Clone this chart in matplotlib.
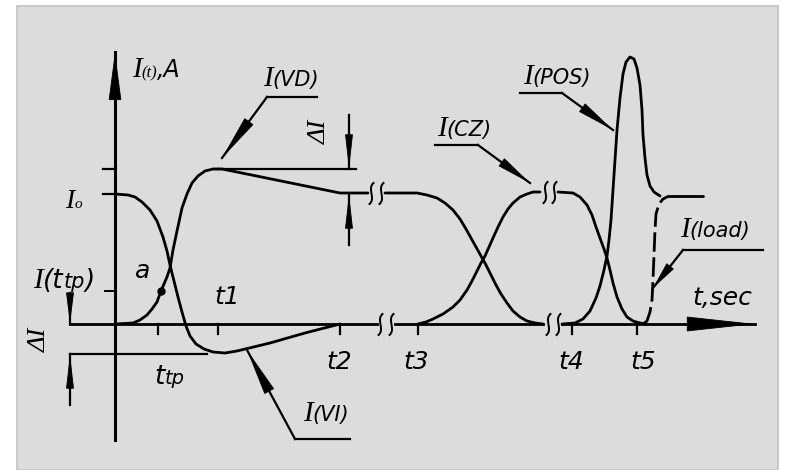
import matplotlib.pyplot as plt
from matplotlib.path import Path
from matplotlib.patches import Rectangle
from matplotlib.offsetbox import TextArea, HPacker, AnnotationBbox

# Drawing units: t to the right, I upward, origin where the axes cross.
# I(VI): drops from I0, dips below zero, recovers by t2
vi_t = [0, 13, 20, 27, 35, 42, 48, 52, 55, 59, 63, 67, 71, 75, 81, 89, 98, 110, 122, 155, 190, 225]
vi_i = [130, 129, 127, 122, 114, 103, 87, 73, 59, 43, 27, 12, -2, -12, -20, -25, -28, -29, -27, -19, -9, 0]

# I(VD): rises through point a, overshoots, settles back to I0
vd_t = [0, 18, 25, 32, 37, 42, 46, 49, 52, 55, 58, 62, 67, 72, 77, 83, 90, 98, 107, 117, 225, 253]
vd_i = [0, 1, 4, 9, 15, 22, 33, 40, 47, 56, 74, 93, 116, 130, 141, 148, 153, 155, 155, 153, 131, 131]

# I(VD) after the first break, falling to zero
vd2_t = [270, 302, 312, 322, 330, 338, 345, 351, 356, 361, 366, 371, 376, 381, 386, 392, 398, 405, 412, 420, 428]
vd2_i = [131, 131, 129, 126, 121, 114, 105, 95, 86, 77, 68, 59, 49, 39, 30, 21, 13, 7, 3, 1, 0]

# I(CZ) rising from t3 ...
cz_t = [303, 311, 318, 328, 338, 345, 352, 357, 362, 366, 370, 374, 378, 383, 388, 393, 398, 405, 412, 418, 425]
cz_i = [0, 2, 5, 10, 17, 24, 34, 43, 53, 61, 68, 77, 86, 97, 107, 115, 121, 127, 130, 132, 132]
# ... and falling after t4
cz2_t = [443, 458, 465, 472, 477, 481, 485, 489, 492, 495, 498, 502, 507, 512, 518, 525, 531]
cz2_i = [132, 131, 127, 119, 109, 97, 86, 75, 66, 54, 41, 27, 15, 7, 3, 1, 0]

# I(POS) pulse
pos_t = [447, 460, 468, 475, 481, 485, 489, 492, 494, 496, 498, 500, 502, 505, 508, 511,
         515, 519, 522, 525, 527, 528, 530, 532, 535, 539, 545]
pos_i = [0, 1, 5, 13, 26, 38, 54, 68, 84, 104, 134, 164, 194, 226, 250, 262,
         267, 265, 256, 239, 214, 189, 166, 149, 138, 132, 128]

# I(load)
load_t = [528, 532, 535, 537, 538, 539, 540, 541, 544, 548, 554]
load_i = [0, 3, 12, 24, 44, 69, 94, 110, 120, 125, 128]
load_flat_t = [554, 588]
load_level = 128

I0 = 130
I_peak = 155
I_dip = -30
a_t, a_i = 46, 33

x_ticks = [43, 103, 225, 303, 457, 522]
x_tick_labels = ['t1', 't2', 't3', 't4', 't5']

# break marks: (t, I) centres
breaks_top_t = [256, 266, 430, 439]
breaks_top_i = [131, 131, 132, 132]
breaks_axis_t = [265, 276, 433, 443]
axis_segments = [(-45, 262), (280, 428), (447, 600)]

fig = plt.figure(figsize=(7.9, 4.7), dpi=100, facecolor='white')
ax = fig.add_axes([0, 0, 1, 1])
ax.set_xlim(-115, 675)
ax.set_ylim(-146, 324)
ax.axis('off')

ax.add_patch(Rectangle((-98, -146), 761, 464, facecolor='#dcdcdc',
                       edgecolor='#c2c2c2', lw=1.2, zorder=0))

K = 'black'
curve = dict(color=K, lw=2.0, solid_capstyle='round', solid_joinstyle='round')


def arrow(start, tip, length, half, lw=1.6):
    # shaft drawn as a plain line, head as a thin-edged filled triangle
    ax.plot([start[0], tip[0]], [start[1], tip[1]], color=K, lw=lw)
    ax.annotate('', xy=tip, xytext=start,
                arrowprops=dict(arrowstyle=f'-|>,head_length={length},head_width={half}',
                                color=K, lw=0.6, shrinkA=0, shrinkB=0, mutation_scale=10))


def label(x, y, parts):
    boxes = [TextArea(s, textprops=dict(family=f, style='italic', size=sz, color=K))
             for s, f, sz in parts]
    pack = HPacker(children=boxes, align='baseline', pad=0, sep=0)
    ax.add_artist(AnnotationBbox(pack, (x, y), box_alignment=(0, 0),
                                 frameon=False, pad=0))


SERIF = 'Liberation Serif'
SANS = 'DejaVu Sans'

# axes
ax.plot([0, 0], [-116, 240], color=K, lw=2.2)
arrow((0, 230), (0, 272), 3.2, 0.42, lw=2.2)
for a0, a1 in axis_segments:
    ax.plot([a0, a1], [0, 0], color=K, lw=2.0)
arrow((590, 0), (640, 0), 4.6, 0.5, lw=2.0)

squiggle = Path([(0.25, 1.0), (-0.5, 0.5), (0.5, -0.5), (-0.25, -1.0)],
                [Path.MOVETO, Path.CURVE4, Path.CURVE4, Path.CURVE4])
ax.plot(breaks_top_t, breaks_top_i, ls='none', marker=squiggle, ms=16,
        mfc='none', mec=K, mew=1.4)
ax.plot(breaks_axis_t, [0] * len(breaks_axis_t), ls='none', marker=squiggle, ms=16,
        mfc='none', mec=K, mew=1.4)

# ticks
for t in x_ticks:
    ax.plot([t, t], [0, -10], color=K, lw=1.6)
ax.plot([-12, 0], [I0, I0], color=K, lw=1.6)
ax.plot([-12, 0], [I_peak, I_peak], color=K, lw=1.6)
ax.plot([-10, 0], [a_i, a_i], color=K, lw=1.4)

# traces
ax.plot(vi_t, vi_i, **curve)
ax.plot(vd_t, vd_i, **curve)
ax.plot(vd2_t, vd2_i, **curve)
ax.plot(cz_t, cz_i, **curve)
ax.plot(cz2_t, cz2_i, **curve)
ax.plot(pos_t, pos_i, **curve)
ax.plot(load_t, load_i, color=K, lw=2.0, ls=(0, (7, 2)))
ax.plot(load_flat_t, [load_level] * 2, **curve)
ax.plot([a_t], [a_i], 'o', color=K, ms=5)

# delta I dimensions
ax.plot([100, 241], [I_peak, I_peak], color=K, lw=1.6)
arrow((234, 209), (234, I_peak), 2.2, 0.25)
arrow((234, 79), (234, I0), 2.2, 0.25)
ax.plot([-45, 92], [I_dip, I_dip], color=K, lw=1.6)
arrow((-45, 31), (-45, 0), 2.0, 0.25)
arrow((-45, -81), (-45, I_dip), 2.2, 0.25)

# leaders
ax.plot([152, 202], [227, 227], color=K, lw=1.6)
arrow((152, 227), (107, 166), 3.0, 0.36)
ax.plot([320, 363], [179, 179], color=K, lw=1.6)
arrow((363, 179), (415, 141), 2.3, 0.32)
ax.plot([405, 447], [231, 231], color=K, lw=1.6)
arrow((447, 231), (498, 194), 2.5, 0.34)
ax.plot([568, 648], [74, 74], color=K, lw=1.6)
arrow((568, 74), (538, 36), 1.8, 0.3)
ax.plot([180, 235], [-115, -115], color=K, lw=1.6)
arrow((180, -115), (132, -26), 3.1, 0.36)

# labels
label(17, 241, [('I', SERIF, 21), ('(t)', SERIF, 12), (',A', SANS, 17)])
label(-50, 110, [('I', SERIF, 20), ('o', SERIF, 11)])
label(148, 232, [('I', SERIF, 21), ('(VD)', SANS, 15)])
label(322, 182, [('I', SERIF, 21), ('(CZ)', SANS, 15)])
label(408, 234, [('I', SERIF, 21), ('(POS)', SANS, 15)])
label(565, 81, [('I', SERIF, 21), ('(load)', SANS, 15)])
label(188, -103, [('I', SERIF, 21), ('(VI)', SANS, 15)])
label(-82, 30, [('I', SERIF, 21), ('(t', SANS, 19), ('tp', SANS, 15), (')', SANS, 19)])
label(39, -66, [('t', SANS, 19), ('tp', SANS, 14)])

txt = dict(family=SANS, style='italic', size=18, color=K, ha='center', va='center')
ax.text(28, 53, 'a', **txt)
ax.text(112, 27, x_tick_labels[0], **txt)
for t, s in zip([224, 301, 456, 528], x_tick_labels[1:]):
    ax.text(t, -38, s, **txt)
ax.text(607, 26, 't,sec', **txt)

dtxt = dict(family=SERIF, style='italic', size=19, color=K, ha='center', va='center', rotation=90)
ax.text(205, 192, 'ΔI', **dtxt)
ax.text(-75, -16, 'ΔI', **dtxt)

fig.savefig('out.png', dpi=100, facecolor=fig.get_facecolor())
